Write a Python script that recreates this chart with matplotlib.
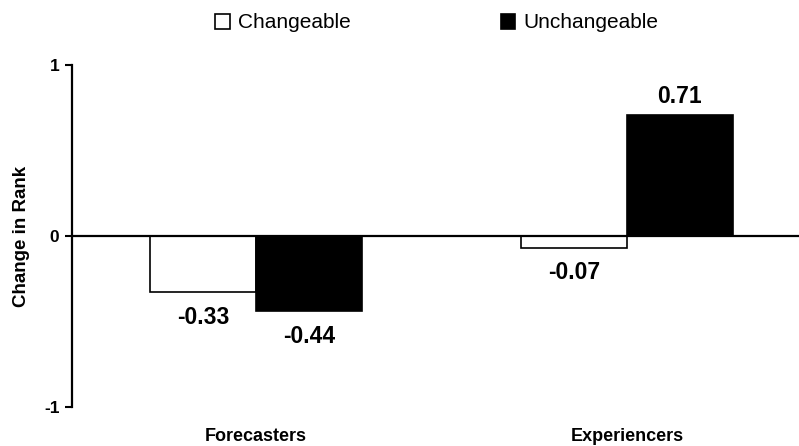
import matplotlib.pyplot as plt
import numpy as np
from matplotlib.patches import Patch

# data
groups = ['Forecasters', 'Experiencers']
series = ['Changeable', 'Unchangeable']
changeable = [-0.33, -0.07]
unchangeable = [-0.44, 0.71]

plt.rcParams['font.family'] = ['Liberation Sans', 'DejaVu Sans']

fig = plt.figure(figsize=(7.99, 4.46), dpi=100)
W, H = 799, 446
ax = fig.add_axes([72 / W, 1 - 407 / H, 1 - 72 / W, (407 - 65) / H])

x = np.arange(len(groups))
bw = 0.286
b1 = ax.bar(x - bw / 2, changeable, bw, color='white', edgecolor='black', linewidth=1.2, zorder=2)
b2 = ax.bar(x + bw / 2, unchangeable, bw, color='black', edgecolor='black', linewidth=1.2, zorder=2)

ax.axhline(0, color='black', linewidth=1.6, zorder=3)

# value labels
for bars, vals in [(b1, changeable), (b2, unchangeable)]:
    for rect, v in zip(bars, vals):
        off = -18 if v < 0 else 13
        ax.annotate(f'{v:.2f}', (rect.get_x() + rect.get_width() / 2, v),
                    xytext=(0, off), textcoords='offset points',
                    ha='center', va='center', fontsize=16.5, fontweight='bold')

ax.set_ylim(-1, 1)
ax.set_xlim(-0.496, 1.464)
ax.set_yticks([-1, 0, 1])
ax.set_yticklabels(['-1', '0', '1'], fontsize=12.5, fontweight='bold')
ax.tick_params(axis='y', length=5, width=1.5, direction='out', pad=4)
ax.set_xticks([])
for s in ['top', 'right', 'bottom']:
    ax.spines[s].set_visible(False)
ax.spines['left'].set_linewidth(1.6)
ax.set_ylabel('Change in Rank', fontsize=13.5, fontweight='bold', labelpad=10)

for xi, g in zip(x, groups):
    ax.text(xi, -1.175, g, ha='center', va='center', fontsize=13, fontweight='bold', clip_on=False)

handles = [Patch(facecolor='white', edgecolor='black', linewidth=1.2),
           Patch(facecolor='black', edgecolor='black', linewidth=1.2)]
fig.legend(handles, series, loc='center', bbox_to_anchor=(437 / W, 1 - 23 / H), ncol=2,
           frameon=False, fontsize=15, handlelength=0.7, handleheight=0.7,
           handletextpad=0.4, columnspacing=7.2)

fig.savefig('out.png', dpi=100)
